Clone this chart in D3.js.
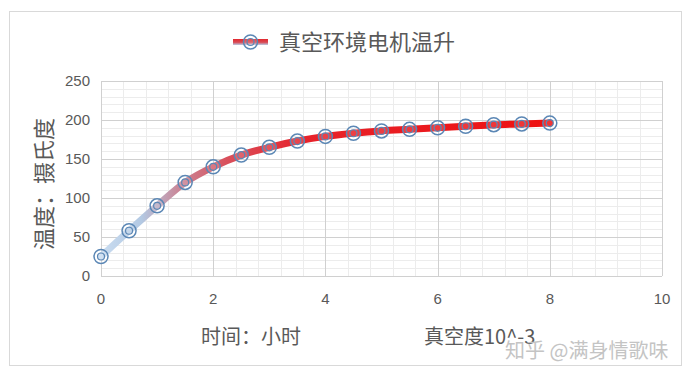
<!DOCTYPE html>
<html>
<head>
<meta charset="utf-8">
<script src="https://cdn.jsdelivr.net/npm/d3@7"></script>
<style>
body{margin:0;background:#fff;}
text{font-family:"Noto Sans CJK SC","Liberation Sans",sans-serif;}
</style>
</head>
<body>
<div id="chart"></div>
<script>
var hours = [0,0.5,1,1.5,2,2.5,3,3.5,4,4.5,5,5.5,6,6.5,7,7.5,8];
var temps = [25,58,90,120,140,155,165,173,179,183,186,188,190,192,194,195,196];
var xTicks = [0,2,4,6,8,10];
var yTicks = [0,50,100,150,200,250];
var seriesName = "真空环境电机温升";
var yTitle = "温度：摄氏度";
var xTitle1 = "时间：小时";
var xTitle2 = "真空度10^-3";
var watermark = "知乎 @满身情歌味";

function init(){
	var w = 691, h = 378;
	var left = 101, right = 662, top = 81, bottom = 276;

	var svg = d3.select("#chart").append("svg")
		.attr("width", w).attr("height", h);

	//chart border
	svg.append("rect")
		.attr("x", 9.5).attr("y", 11.5)
		.attr("width", 672).attr("height", 354)
		.attr("fill", "#fff").attr("stroke", "#d9d9d9");

	var x = d3.scaleLinear().domain([0,10]).range([left,right]);
	var y = d3.scaleLinear().domain([0,250]).range([bottom,top]);

	//minor grid
	var g = svg.append("g");
	g.selectAll("line.mx").data(d3.range(0,10.01,0.4)).enter().append("line")
		.attr("x1", function(d){return Math.round(x(d))+0.5;})
		.attr("x2", function(d){return Math.round(x(d))+0.5;})
		.attr("y1", top).attr("y2", bottom)
		.attr("stroke", "#ececec");
	g.selectAll("line.my").data(d3.range(0,250.01,10)).enter().append("line")
		.attr("y1", function(d){return Math.round(y(d))+0.5;})
		.attr("y2", function(d){return Math.round(y(d))+0.5;})
		.attr("x1", left).attr("x2", right)
		.attr("stroke", "#ececec");
	//major grid
	g.selectAll("line.Mx").data(xTicks).enter().append("line")
		.attr("x1", function(d){return Math.round(x(d))+0.5;})
		.attr("x2", function(d){return Math.round(x(d))+0.5;})
		.attr("y1", top).attr("y2", bottom)
		.attr("stroke", "#d0d0d0");
	g.selectAll("line.My").data(yTicks).enter().append("line")
		.attr("y1", function(d){return Math.round(y(d))+0.5;})
		.attr("y2", function(d){return Math.round(y(d))+0.5;})
		.attr("x1", left).attr("x2", right)
		.attr("stroke", "#d0d0d0");

	//tick labels
	svg.selectAll("text.xt").data(xTicks).enter().append("text")
		.attr("x", function(d){return x(d);})
		.attr("y", 304)
		.attr("text-anchor", "middle")
		.attr("font-size", 15).attr("fill", "#595959")
		.style("font-family", "Liberation Sans, sans-serif")
		.text(function(d){return d;});
	svg.selectAll("text.yt").data(yTicks).enter().append("text")
		.attr("x", 90)
		.attr("y", function(d){return y(d)+5;})
		.attr("text-anchor", "end")
		.attr("font-size", 15).attr("fill", "#595959")
		.style("font-family", "Liberation Sans, sans-serif")
		.text(function(d){return d;});

	//line gradient
	var defs = svg.append("defs");
	var grad = defs.append("linearGradient")
		.attr("id", "lineGrad")
		.attr("gradientUnits", "userSpaceOnUse")
		.attr("x1", x(0)).attr("x2", x(8)).attr("y1", 0).attr("y2", 0);
	grad.append("stop").attr("offset", "0%").attr("stop-color", "#c9dcf0");
	grad.append("stop").attr("offset", "9%").attr("stop-color", "#b3c9e3");
	grad.append("stop").attr("offset", "17%").attr("stop-color", "#c9899a");
	grad.append("stop").attr("offset", "28%").attr("stop-color", "#d9505c");
	grad.append("stop").attr("offset", "45%").attr("stop-color", "#e7232b");
	grad.append("stop").attr("offset", "100%").attr("stop-color", "#ee1111");

	var lg = defs.append("linearGradient")
		.attr("id", "legGrad").attr("x1", 0).attr("x2", 0).attr("y1", 0).attr("y2", 1);
	lg.append("stop").attr("offset", "0%").attr("stop-color", "#e2282e");
	lg.append("stop").attr("offset", "55%").attr("stop-color", "#d94a55");
	lg.append("stop").attr("offset", "100%").attr("stop-color", "#b8cde6");

	var pts = hours.map(function(d,i){return [d, temps[i]];});
	var line = d3.line()
		.x(function(d){return x(d[0]);})
		.y(function(d){return y(d[1]);})
		.curve(d3.curveMonotoneX);

	svg.append("path")
		.attr("d", line(pts))
		.attr("fill", "none")
		.attr("stroke", "url(#lineGrad)")
		.attr("stroke-width", 7)
		.attr("stroke-linecap", "round");

	//markers
	function marker(sel){
		sel.append("circle").attr("r", 7)
			.attr("fill", "rgba(255,255,255,0.15)")
			.attr("stroke", "#5b87b5").attr("stroke-width", 1.5);
		sel.append("circle").attr("r", 3.5)
			.attr("fill", "none")
			.attr("stroke", "#5b87b5").attr("stroke-width", 1.2);
	}
	svg.selectAll("g.pt").data(pts).enter().append("g")
		.attr("transform", function(d){return "translate(" + x(d[0]) + "," + y(d[1]) + ")";})
		.call(marker);

	//legend
	svg.append("rect")
		.attr("x", 233).attr("y", 39).attr("width", 35).attr("height", 6)
		.attr("fill", "url(#legGrad)");
	svg.append("g").attr("transform", "translate(250.5,42)").call(marker);
	svg.append("text")
		.attr("x", 279).attr("y", 50)
		.attr("font-size", 22).attr("fill", "#595959")
		.text(seriesName);

	//axis titles
	svg.append("text")
		.attr("transform", "translate(52,184) rotate(-90)")
		.attr("text-anchor", "middle")
		.attr("font-size", 22).attr("fill", "#595959")
		.text(yTitle);
	svg.append("text")
		.attr("x", 201).attr("y", 344)
		.attr("font-size", 20).attr("fill", "#595959")
		.text(xTitle1);
	svg.append("text")
		.attr("x", 424).attr("y", 344)
		.attr("font-size", 20).attr("fill", "#595959")
		.text(xTitle2);

	//watermark
	svg.append("text")
		.attr("x", 505).attr("y", 358)
		.attr("font-size", 20).attr("fill", "#c4c4c4")
		.text(watermark);
}

window.onload = init;
</script>
</body>
</html>
